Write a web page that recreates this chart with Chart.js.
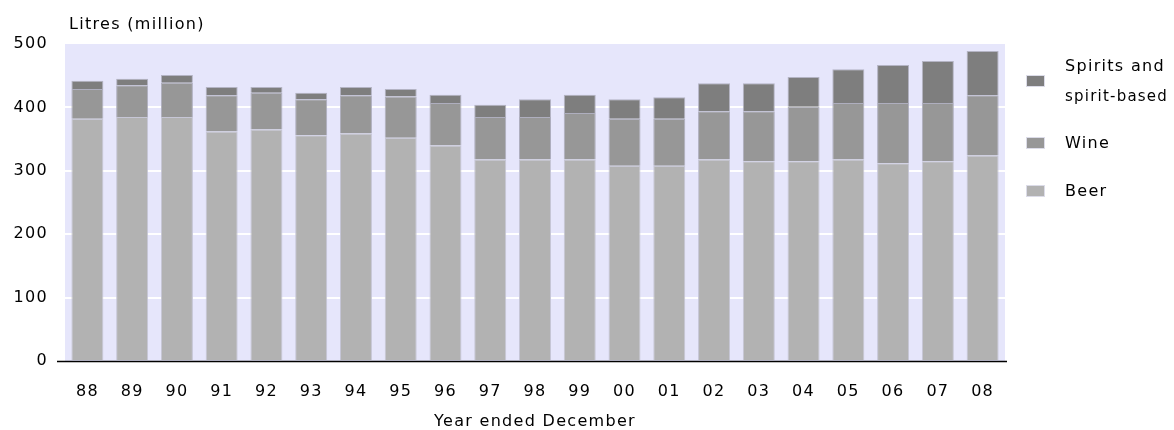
<!DOCTYPE html>
<html>
<head>
<meta charset="utf-8">
<script src="https://cdn.jsdelivr.net/npm/chart.js@4.4.1/dist/chart.umd.min.js"></script>
<style>
  html, body { margin: 0; padding: 0; background: #ffffff; }
  #wrap { width: 1174px; height: 430px; }
</style>
</head>
<body>
<div id="wrap"><canvas id="c" width="1174" height="430"></canvas></div>
<script>
// Alcohol available for consumption, litres (million), year ended December
const years   = ['88','89','90','91','92','93','94','95','96','97','98','99','00','01','02','03','04','05','06','07','08'];
const beer    = [382, 385, 385, 362, 365, 356, 359, 352, 340, 318, 318, 318, 308, 308, 318, 315, 315, 318, 312, 315, 324];
const wine    = [ 47,  50,  54,  57,  58,  57,  60,  65,  67,  67,  67,  73,  74,  74,  76,  79,  86,  89,  95,  92,  95];
const spirits = [ 13,  10,  12,  13,   9,  10,  13,  12,  13,  19,  28,  29,  31,  34,  44,  44,  47,  53,  60,  66,  70];
const yTicks  = [0, 100, 200, 300, 400, 500];
const unitLabel  = 'Litres (million)';
const xAxisTitle = 'Year ended December';
const beerName    = 'Beer';
const wineName    = 'Wine';
const spiritsName = ['Spirits and', 'spirit-based'];

const FONT = '"DejaVu Sans", Verdana, sans-serif';
const FONT_SIZE = 16;
const SPACING = '1.3px';
const TEXT = '#000000';
const PLOT_BG = '#e6e6fb';

// the bitmap-style lettering is widely tracked
const tracking = {
  id: 'tracking',
  beforeInit(chart) { chart.ctx.letterSpacing = SPACING; },
  beforeUpdate(chart) { chart.ctx.letterSpacing = SPACING; },
  beforeDraw(chart) { chart.ctx.letterSpacing = SPACING; }
};

// paints the lavender plot area behind grid and bars
const plotBackground = {
  id: 'plotBackground',
  beforeDraw(chart) {
    const { ctx, chartArea: a } = chart;
    ctx.save();
    ctx.fillStyle = PLOT_BG;
    ctx.fillRect(a.left, a.top, a.right - a.left, a.bottom - a.top);
    ctx.restore();
  }
};

// zero line, running slightly past the plot on the left
const baseLine = {
  id: 'baseLine',
  afterDatasetsDraw(chart) {
    const { ctx, chartArea: a, scales } = chart;
    const y = Math.round(scales.y.getPixelForValue(0)) + 0.5;
    ctx.save();
    ctx.strokeStyle = '#000000';
    ctx.lineWidth = 1.5;
    ctx.beginPath();
    ctx.moveTo(a.left - 8, y);
    ctx.lineTo(a.right + 2, y);
    ctx.stroke();
    ctx.restore();
  }
};

// unit caption above the value axis and the category axis title
const captions = {
  id: 'captions',
  afterDraw(chart) {
    const { ctx, chartArea: a } = chart;
    ctx.save();
    ctx.letterSpacing = SPACING;
    ctx.font = FONT_SIZE + 'px ' + FONT;
    ctx.fillStyle = TEXT;
    ctx.textBaseline = 'middle';
    ctx.textAlign = 'left';
    ctx.fillText(unitLabel, a.left + 4, 25);
    ctx.textAlign = 'center';
    ctx.fillText(xAxisTitle, (a.left + a.right) / 2, 422);
    ctx.restore();
  }
};

// legend on the right, top series first
const sideLegend = {
  id: 'sideLegend',
  afterDraw(chart) {
    const { ctx } = chart;
    const sets = chart.data.datasets.slice().reverse();
    const rows = [81, 143, 191];
    ctx.save();
    ctx.letterSpacing = SPACING;
    ctx.font = FONT_SIZE + 'px ' + FONT;
    ctx.textAlign = 'left';
    ctx.textBaseline = 'middle';
    sets.forEach((ds, i) => {
      const cy = rows[i];
      ctx.fillStyle = ds.backgroundColor;
      ctx.fillRect(1027, cy - 5, 17, 10);
      ctx.strokeStyle = '#dcdce8';
      ctx.lineWidth = 1;
      ctx.strokeRect(1026.5, cy - 5.5, 18, 11);
      ctx.fillStyle = TEXT;
      const lines = Array.isArray(ds.label) ? ds.label : [ds.label];
      const lh = 30;
      const y0 = cy - (lines.length - 1) * lh / 2 + 1;
      lines.forEach((t, k) => ctx.fillText(t, 1065, y0 + k * lh, 103));
    });
    ctx.restore();
  }
};

const barBorder = { left: 1, right: 1, top: 1, bottom: 0 };

new Chart(document.getElementById('c'), {
  type: 'bar',
  data: {
    labels: years,
    datasets: [
      { label: beerName,    data: beer,    backgroundColor: '#b2b2b2', borderColor: '#c6c6d6', borderWidth: barBorder, borderSkipped: false },
      { label: wineName,    data: wine,    backgroundColor: '#979797', borderColor: '#aeaebe', borderWidth: barBorder, borderSkipped: false },
      { label: spiritsName, data: spirits, backgroundColor: '#7e7e7e', borderColor: '#b4b4c4', borderWidth: barBorder, borderSkipped: false }
    ]
  },
  options: {
    responsive: false,
    animation: false,
    devicePixelRatio: 1,
    layout: { padding: { left: 0, right: 169, top: 44, bottom: 0 } },
    datasets: { bar: { categoryPercentage: 0.715, barPercentage: 1.0 } },
    plugins: {
      legend: { display: false },
      tooltip: { enabled: false },
      title: { display: false }
    },
    scales: {
      x: {
        stacked: true,
        grid: { display: false, drawTicks: false },
        border: { display: false },
        ticks: { color: TEXT, font: { family: FONT, size: FONT_SIZE }, padding: 21, maxRotation: 0, autoSkip: false },
        title: { display: false },
        afterFit(scale) { scale.height = 69; }
      },
      y: {
        stacked: true,
        min: 0,
        max: 500,
        afterBuildTicks(scale) { scale.ticks = yTicks.map(v => ({ value: v })); },
        grid: {
          drawTicks: false,
          lineWidth: 2,
          color: ctx => (ctx.tick && ctx.tick.value > 0 && ctx.tick.value < 500) ? '#ffffff' : 'rgba(0,0,0,0)'
        },
        border: { display: false },
        ticks: { color: TEXT, font: { family: FONT, size: FONT_SIZE }, padding: 17 },
        afterFit(scale) { scale.width = 65; }
      }
    }
  },
  plugins: [tracking, plotBackground, baseLine, captions, sideLegend]
});
</script>
</body>
</html>
